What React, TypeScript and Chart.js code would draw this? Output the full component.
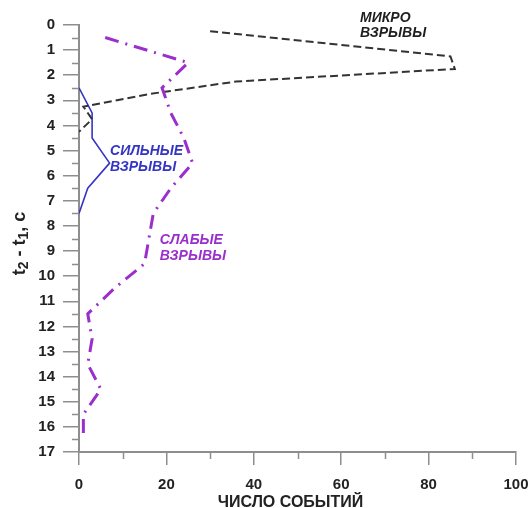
import React, { useEffect, useRef } from "react";
import { Chart, registerables } from "chart.js";

Chart.register(...registerables);

// t2 - t1 (s) bins and event counts
const weakT = [0.5, 1.5, 2.5, 3.5, 4.5, 5.5, 6.5, 7.5, 8.5, 9.5, 10.5, 11.5, 12.5, 13.5, 14.5, 15.5, 16.5];
const weakCounts = [6, 25, 19, 21, 24, 26, 21, 17, 16, 15, 8, 2, 3, 2, 5, 1, 1];

const strongT = [2.5, 3.5, 4.5, 5.5, 6.5, 7.5];
const strongCounts = [0, 3, 3, 7, 2, 0];

const microT = [0.25, 1.25, 1.75, 2.25, 2.75, 3.25, 3.75, 4.25];
const microCounts = [30, 85, 86, 36, 16, 1, 3, 0];

const xMinorTicks = [10, 30, 50, 70, 90];
const yMinorTicks = [0.5, 1.5, 2.5, 3.5, 4.5, 5.5, 6.5, 7.5, 8.5, 9.5, 10.5, 11.5, 12.5, 13.5, 14.5, 15.5, 16.5];

const xTitle = "ЧИСЛО СОБЫТИЙ";
const seriesLabels = [
  { lines: ["МИКРО", "ВЗРЫВЫ"], x: 64.3, y: -0.28, color: "#1e1e1e" },
  { lines: ["СИЛЬНЫЕ", "ВЗРЫВЫ"], x: 7.1, y: 5.03, color: "#3535c4" },
  { lines: ["СЛАБЫЕ", "ВЗРЫВЫ"], x: 18.5, y: 8.58, color: "#9a2fce" },
];

const AXIS_COLOR = "#8e8e8e";
const TEXT_COLOR = "#222222";

const toPts = (xs: number[], ys: number[]) => xs.map((x, i) => ({ x, y: ys[i] }));

const decorPlugin = {
  id: "decor",
  afterDraw(chart: any) {
    const { ctx, chartArea, scales } = chart;
    const xs = scales.x;
    const ys = scales.y;
    ctx.save();
    // minor ticks
    ctx.strokeStyle = AXIS_COLOR;
    ctx.lineWidth = 1.5;
    ctx.beginPath();
    yMinorTicks.forEach((v) => {
      const py = Math.round(ys.getPixelForValue(v)) + 0.5;
      ctx.moveTo(chartArea.left - 7, py);
      ctx.lineTo(chartArea.left, py);
    });
    xMinorTicks.forEach((v) => {
      const px = Math.round(xs.getPixelForValue(v)) + 0.5;
      ctx.moveTo(px, chartArea.bottom);
      ctx.lineTo(px, chartArea.bottom + 7);
    });
    ctx.stroke();

    // series labels
    ctx.font = "italic bold 14px Arial, 'Liberation Sans', sans-serif";
    ctx.textAlign = "left";
    ctx.textBaseline = "middle";
    seriesLabels.forEach((l) => {
      ctx.fillStyle = l.color;
      const px = xs.getPixelForValue(l.x);
      const py = ys.getPixelForValue(l.y);
      l.lines.forEach((t, i) => ctx.fillText(t, px, py + i * 15.5));
    });

    // x title
    ctx.fillStyle = TEXT_COLOR;
    ctx.font = "bold 16px Arial, 'Liberation Sans', sans-serif";
    ctx.textAlign = "center";
    ctx.textBaseline = "middle";
    const tx = chartArea.left + (chartArea.right - chartArea.left) * 0.484;
    ctx.fillText(xTitle, tx, chartArea.bottom + 51);

    // y title with subscripts: t2 - t1, c
    const big = "bold 18px Arial, 'Liberation Sans', sans-serif";
    const small = "bold 14px Arial, 'Liberation Sans', sans-serif";
    const parts = [
      { t: "t", f: big, d: 0 },
      { t: "2", f: small, d: 4 },
      { t: " - t", f: big, d: 0 },
      { t: "1", f: small, d: 4 },
      { t: ", c", f: big, d: 0 },
    ];
    let total = 0;
    parts.forEach((p) => {
      ctx.font = p.f;
      total += ctx.measureText(p.t).width;
    });
    ctx.translate(20, (chartArea.top + chartArea.bottom) / 2 + 5);
    ctx.rotate(-Math.PI / 2);
    ctx.textAlign = "left";
    ctx.textBaseline = "middle";
    let cx = -total / 2;
    parts.forEach((p) => {
      ctx.font = p.f;
      ctx.fillText(p.t, cx, p.d);
      cx += ctx.measureText(p.t).width;
    });
    ctx.restore();
  },
};

export default function App() {
  const ref = useRef<HTMLCanvasElement | null>(null);

  useEffect(() => {
    if (!ref.current) return;
    const tickFont = { family: "Arial, 'Liberation Sans', sans-serif", size: 15, weight: "bold" as const };
    const chart = new Chart(ref.current, {
      type: "scatter",
      data: {
        datasets: [
          {
            label: "weak",
            data: toPts(weakCounts, weakT),
            showLine: true,
            borderColor: "#9a2fce",
            borderWidth: 3,
            borderDash: [14, 7, 2, 7],
            pointRadius: 0,
            tension: 0,
          },
          {
            label: "micro",
            data: toPts(microCounts, microT),
            showLine: true,
            borderColor: "#333333",
            borderWidth: 2,
            borderDash: [8, 4],
            pointRadius: 0,
            tension: 0,
          },
          {
            label: "strong",
            data: toPts(strongCounts, strongT),
            showLine: true,
            borderColor: "#3535c4",
            borderWidth: 1.6,
            pointRadius: 0,
            tension: 0,
          },
        ],
      },
      options: {
        animation: false,
        responsive: false,
        devicePixelRatio: 1,
        layout: { padding: { top: 25, right: 16, bottom: 0, left: 0 } },
        plugins: { legend: { display: false }, tooltip: { enabled: false } },
        scales: {
          x: {
            type: "linear",
            position: "bottom",
            min: 0,
            max: 100,
            afterFit: (s: any) => {
              s.height = 56;
              s.paddingLeft = 0;
              s.paddingRight = 0;
            },
            ticks: { stepSize: 20, font: tickFont, color: TEXT_COLOR, padding: 11, maxRotation: 0 },
            grid: { drawOnChartArea: false, tickLength: 13, color: AXIS_COLOR, lineWidth: 1.5 },
            border: { color: AXIS_COLOR, width: 2 },
          },
          y: {
            type: "linear",
            reverse: true,
            min: 0,
            max: 17,
            afterFit: (s: any) => {
              s.width = 79;
              s.paddingTop = 0;
              s.paddingBottom = 0;
            },
            ticks: { stepSize: 1, autoSkip: false, font: tickFont, color: TEXT_COLOR, padding: 8 },
            grid: { drawOnChartArea: false, tickLength: 16, color: AXIS_COLOR, lineWidth: 1.5 },
            border: { color: AXIS_COLOR, width: 2 },
          },
        },
      },
      plugins: [decorPlugin],
    } as any);
    return () => chart.destroy();
  }, []);

  return (
    <div style={{ position: "fixed", left: 0, top: 0, width: 532, height: 508, background: "#fff" }}>
      <canvas ref={ref} width={532} height={508} style={{ width: 532, height: 508, display: "block" }} />
    </div>
  );
}
